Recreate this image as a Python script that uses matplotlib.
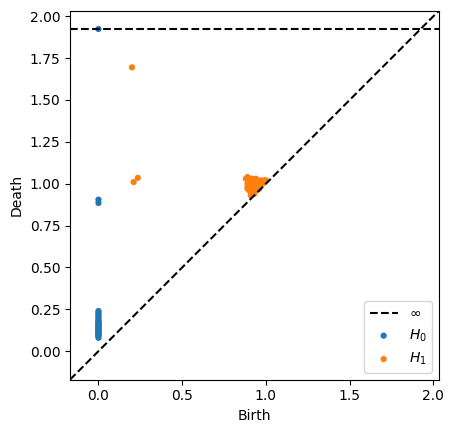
import numpy as np
import matplotlib
matplotlib.use("Agg")
import matplotlib.pyplot as plt

# H0 pairs (birth, death); last one is infinite
h0_birth = [0.0] * 28
h0_death = [0.08, 0.09, 0.095, 0.10, 0.105, 0.11, 0.115, 0.12, 0.125, 0.13,
            0.135, 0.14, 0.145, 0.15, 0.155, 0.16, 0.165, 0.17, 0.175, 0.18,
            0.19, 0.20, 0.21, 0.22, 0.23, 0.24, 0.885, 0.905]
h0_inf_birth = [0.0]

# H1 pairs
h1_birth = [0.20, 0.21, 0.235,
            0.88, 0.89, 0.90, 0.91, 0.92, 0.93, 0.94, 0.95, 0.96, 0.97, 0.99, 1.00,
            0.89, 0.90, 0.91, 0.92, 0.93, 0.94, 0.95, 0.96, 0.97, 0.98, 0.89,
            0.89, 0.90, 0.91, 0.92, 0.93, 0.94, 0.95, 0.96, 0.91, 0.92, 0.93]
h1_death = [1.695, 1.01, 1.035,
            1.03, 1.04, 1.02, 1.03, 1.03, 1.02, 1.03, 1.02, 1.01, 1.02, 1.02, 1.02,
            1.00, 0.99, 1.00, 0.98, 1.00, 0.99, 0.98, 0.99, 0.99, 1.00, 0.98,
            0.97, 0.96, 0.95, 0.97, 0.95, 0.96, 0.97, 0.97, 0.93, 0.94, 0.94]

finite = np.array(h0_death + h1_death + h0_birth + h1_birth)
ax_min, ax_max = finite.min(), finite.max()
buf = (ax_max - ax_min) / 5
lo = ax_min - buf / 2
hi = ax_max + buf
b_inf = lo + (hi - lo) * 0.95

fig = plt.figure(figsize=(4.55, 4.33), dpi=100)
ax = fig.add_axes([0.154, 0.122, 0.811, 0.855])

ax.plot([lo, hi], [lo, hi], "--", c="k")
ax.plot([lo, hi], [b_inf, b_inf], "--", c="k", label=r"$\infty$")
ax.scatter(h0_birth + h0_inf_birth, h0_death + [b_inf], s=20, label="$H_0$", edgecolor="none")
ax.scatter(h1_birth, h1_death, s=20, label="$H_1$", edgecolor="none")

ax.set_xlim(lo, hi)
ax.set_ylim(lo, hi)
ax.set_aspect("equal", "box")
ax.set_xlabel("Birth")
ax.set_ylabel("Death")
ax.legend(loc="lower right")

fig.savefig("out.png", dpi=100)
